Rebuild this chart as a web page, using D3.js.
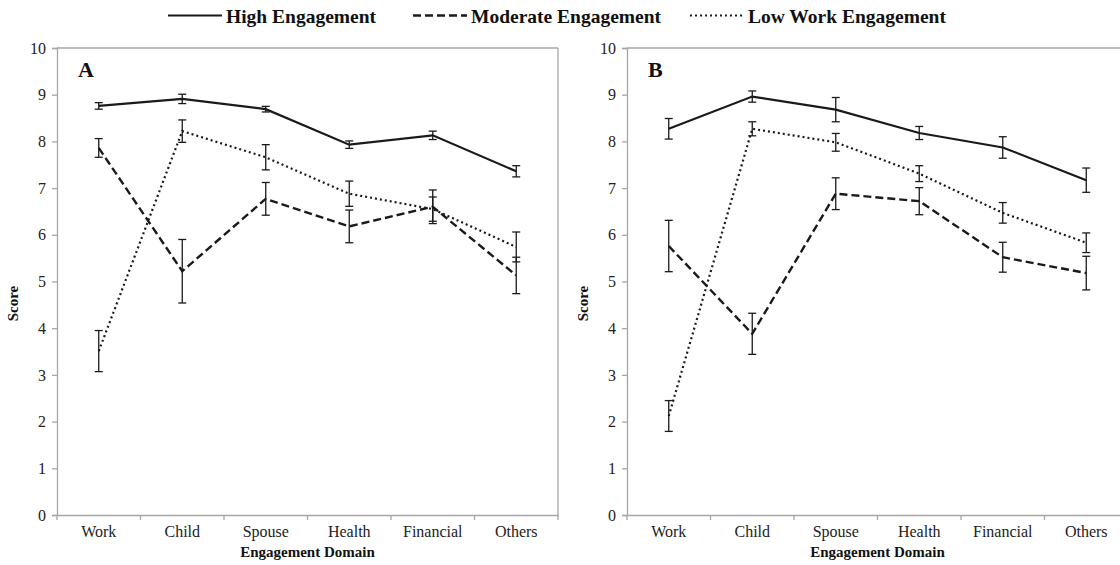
<!DOCTYPE html>
<html><head><meta charset="utf-8">
<script src="https://cdn.jsdelivr.net/npm/d3@7"></script>
<style>body{margin:0;background:#fff;} svg{display:block;} text{font-family:"Liberation Serif","Tinos","Times New Roman","DejaVu Serif",serif;}</style>
</head><body>
<script>
const categories = ["Work","Child","Spouse","Health","Financial","Others"];
const seriesNames = ["High Engagement","Moderate Engagement","Low Work Engagement"];
const yTicks = [0,1,2,3,4,5,6,7,8,9,10];

// Panel A
const highA = [8.76, 8.91, 8.69, 7.93, 8.13, 7.36];
const highA_err = [0.07, 0.10, 0.06, 0.08, 0.09, 0.12];
const modA = [7.86, 5.22, 6.77, 6.18, 6.60, 5.13];
const modA_err = [0.20, 0.68, 0.35, 0.35, 0.36, 0.39];
const lowA = [3.51, 8.22, 7.66, 6.88, 6.55, 5.74];
const lowA_err = [0.44, 0.24, 0.27, 0.27, 0.26, 0.32];

// Panel B
const highB = [8.27, 8.96, 8.68, 8.18, 7.87, 7.17];
const highB_err = [0.22, 0.12, 0.26, 0.14, 0.23, 0.26];
const modB = [5.76, 3.88, 6.88, 6.72, 5.52, 5.18];
const modB_err = [0.55, 0.44, 0.34, 0.29, 0.32, 0.36];
const lowB = [2.12, 8.27, 7.98, 7.31, 6.47, 5.83];
const lowB_err = [0.33, 0.15, 0.19, 0.17, 0.22, 0.21];

const W = 1120, H = 565;
const svg = d3.select("body").append("svg").attr("width", W).attr("height", H);
const serif = '"Liberation Serif","Tinos","Times New Roman","DejaVu Serif",serif';
const axisColor = "#a6a6a6";
const dashes = [null, "8,4", "2,3"];
const widths = [2.2, 2.4, 2.2];

function panel(x0, x1, label, series, errs) {
  const top = 48, bottom = 515;
  const x = d3.scaleBand().domain(categories).range([x0, x1]);
  const y = d3.scaleLinear().domain([0, 10]).range([bottom, top]);
  const g = svg.append("g");

  g.append("line").attr("x1", x0).attr("x2", x1).attr("y1", top).attr("y2", top).attr("stroke", axisColor).attr("stroke-width", 1.3);
  g.append("line").attr("x1", x1).attr("x2", x1).attr("y1", top).attr("y2", bottom).attr("stroke", axisColor).attr("stroke-width", 1.3);

  const yAxis = g.append("g").attr("transform", `translate(${x0},0)`)
    .call(d3.axisLeft(y).tickValues(yTicks).tickSize(5).tickPadding(6));
  const xAxis = g.append("g").attr("transform", `translate(0,${bottom})`)
    .call(d3.axisBottom(x).tickSize(0).tickPadding(11));
  const bounds = categories.map(c => x(c)).concat([x1]);
  g.selectAll(".bt").data(bounds).join("line")
    .attr("x1", d => d).attr("x2", d => d).attr("y1", bottom).attr("y2", bottom + 5)
    .attr("stroke", axisColor).attr("stroke-width", 1.3);

  [yAxis, xAxis].forEach(a => {
    a.attr("font-family", null);
    a.selectAll(".domain").attr("stroke", axisColor).attr("stroke-width", 1.3);
    a.selectAll(".tick line").attr("stroke", axisColor).attr("stroke-width", 1.3);
    a.selectAll("text").style("font-family", serif).style("font-size", "16px").attr("fill", "#222");
  });

  g.append("text").attr("y", 557)
    .attr("text-anchor", "middle").style("font-family", serif).style("font-weight", "bold").style("font-size", "15px")
    .attr("fill", "#111")
    .attr("x", x0 + (x1 - x0) / 2)
    .text("Engagement Domain");
  g.append("text").attr("transform", `translate(${x0 - 39},${(top + bottom) / 2 + 22}) rotate(-90)`)
    .attr("text-anchor", "middle").style("font-family", serif).style("font-weight", "bold").style("font-size", "15px")
    .attr("fill", "#111")
    .text("Score");

  g.append("text").attr("x", x0 + 21).attr("y", 77).style("font-family", serif).style("font-weight", "bold")
    .style("font-size", "22px").attr("fill", "#111").text(label);

  const cx = c => x(c) + x.bandwidth() / 2;
  const line = d3.line().x((d, i) => cx(categories[i])).y(d => y(d));

  series.forEach((s, k) => {
    g.append("path").datum(s).attr("d", line).attr("fill", "none").attr("stroke", "#1a1a1a")
      .attr("stroke-width", widths[k]).attr("stroke-dasharray", dashes[k]);
  });
  series.forEach((s, k) => {
    const e = errs[k];
    const eg = g.append("g").attr("stroke", "#1a1a1a").attr("stroke-width", 1.3);
    s.forEach((v, i) => {
      const px = cx(categories[i]);
      eg.append("line").attr("x1", px).attr("x2", px).attr("y1", y(v + e[i])).attr("y2", y(v - e[i]));
      eg.append("line").attr("x1", px - 4).attr("x2", px + 4).attr("y1", y(v + e[i])).attr("y2", y(v + e[i]));
      eg.append("line").attr("x1", px - 4).attr("x2", px + 4).attr("y1", y(v - e[i])).attr("y2", y(v - e[i]));
    });
  });
}

panel(57, 558, "A", [highA, modA, lowA], [highA_err, modA_err, lowA_err]);
panel(627, 1128, "B", [highB, modB, lowB], [highB_err, modB_err, lowB_err]);

// legend
const leg = svg.append("g");
const legX = [168, 413, 690];
seriesNames.forEach((n, k) => {
  leg.append("line").attr("x1", legX[k]).attr("x2", legX[k] + 54).attr("y1", 15.5).attr("y2", 15.5)
    .attr("stroke", "#1a1a1a").attr("stroke-width", widths[k]).attr("stroke-dasharray", dashes[k]);
  leg.append("text").attr("x", legX[k] + 58).attr("y", 22.5).style("font-family", serif).style("font-weight", "bold")
    .style("font-size", "19.5px").attr("fill", "#111").text(n);
});
</script>
</body></html>
